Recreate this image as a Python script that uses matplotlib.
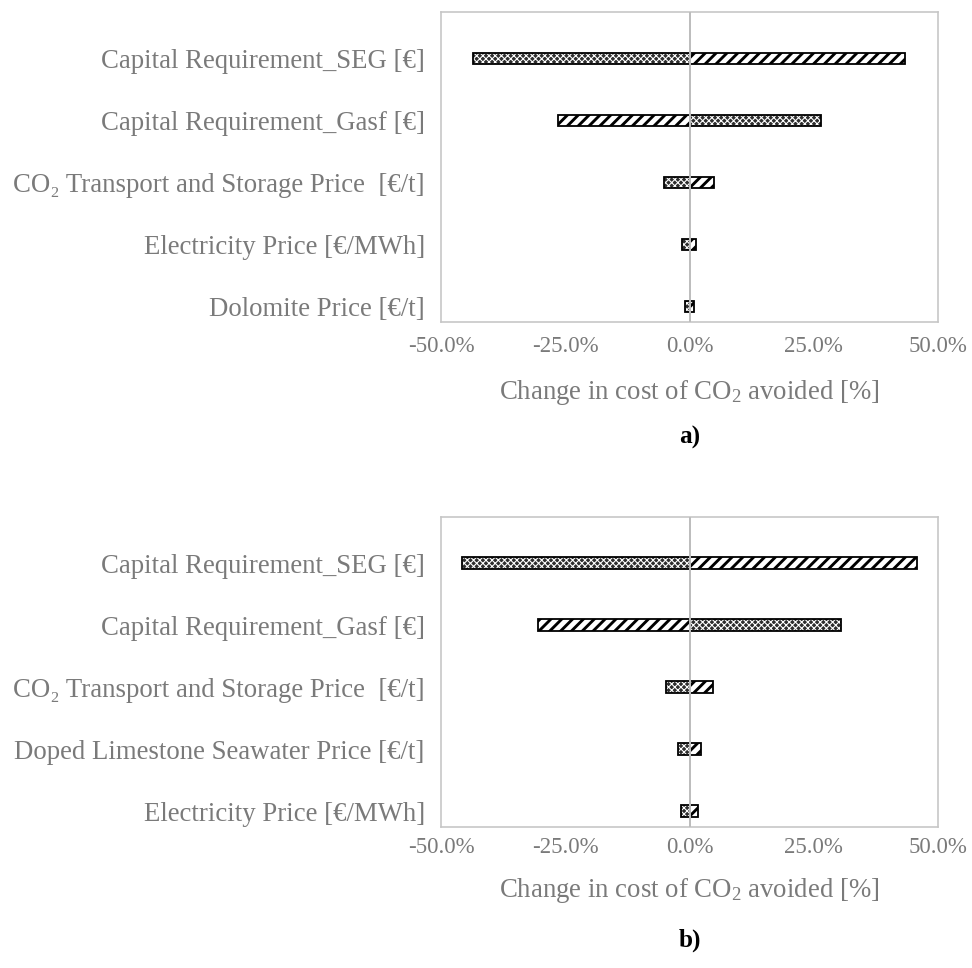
import matplotlib
matplotlib.use("Agg")
import matplotlib.pyplot as plt
import numpy as np

plt.rcParams['font.family'] = ['Liberation Serif', 'DejaVu Serif']
plt.rcParams['mathtext.fontset'] = 'custom'
plt.rcParams['mathtext.rm'] = 'Liberation Serif'
plt.rcParams['mathtext.it'] = 'Liberation Serif:italic'

# Sensitivity results (change in cost of CO2 avoided, %)
labels_a = ["Capital Requirement_SEG [€]",
            "Capital Requirement_Gasf [€]",
            "CO\u2082 Transport and Storage Price  [€/t]",
            "Electricity Price [€/MWh]",
            "Dolomite Price [€/t]"]
dotted_a = [-43.5, 26.4, -5.1, -1.5, -0.9]
hatched_a = [43.3, -26.4, 5.0, 1.4, 0.9]

labels_b = ["Capital Requirement_SEG [€]",
            "Capital Requirement_Gasf [€]",
            "CO\u2082 Transport and Storage Price  [€/t]",
            "Doped Limestone Seawater Price [€/t]",
            "Electricity Price [€/MWh]"]
dotted_b = [-45.8, 30.4, -4.7, -2.4, -1.8]
hatched_b = [45.7, -30.5, 4.75, 2.3, 1.8]

xticks = [-50, -25, 0, 25, 50]
xtick_labels = ["-50.0%", "-25.0%", "0.0%", "25.0%", "50.0%"]
xlabel = r"Change in cost of CO$_2$ avoided [%]"

GRAY_TXT = '#7a7a7a'
FRAME = '#c6c6c6'
BAR_H = 0.19

DPI = 130
fig = plt.figure(figsize=(972 / DPI, 968 / DPI), dpi=DPI)


def set_hatch_lw(patch, lw):
    if hasattr(patch, 'set_hatch_linewidth'):
        patch.set_hatch_linewidth(lw)


def draw_panel(ax, labels, dotted, hatched, tick_pad, label_pad):
    y = np.arange(len(labels))
    # dotted series
    with plt.rc_context({'hatch.linewidth': 0.6}):
        bars = ax.barh(y, dotted, height=BAR_H, color='#2e2e2e',
                       edgecolor='white', hatch='xxxxxxx', linewidth=0, zorder=2)
    for b in bars:
        set_hatch_lw(b, 0.6)
    ax.barh(y, dotted, height=BAR_H, facecolor='none', edgecolor='black',
            linewidth=1.0, zorder=3)
    # hatched series
    with plt.rc_context({'hatch.linewidth': 1.6}):
        bars = ax.barh(y, hatched, height=BAR_H, color='white',
                       edgecolor='black', hatch='////', linewidth=1.0, zorder=2)
    for b in bars:
        set_hatch_lw(b, 1.6)

    ax.axvline(0, color='#bdbdbd', linewidth=1.1, zorder=4)
    ax.set_xlim(-50, 50)
    ax.set_ylim(len(labels) - 0.75, -0.75)
    ax.set_yticks(y)
    ax.set_yticklabels(labels, fontsize=14.8, color=GRAY_TXT)
    ax.set_xticks(xticks)
    ax.set_xticklabels(xtick_labels, fontsize=12.7, color=GRAY_TXT)
    ax.tick_params(axis='both', length=0)
    ax.tick_params(axis='y', pad=9)
    ax.tick_params(axis='x', pad=tick_pad)
    for s in ax.spines.values():
        s.set_color(FRAME)
        s.set_linewidth(0.9)
    ax.set_xlabel(xlabel, fontsize=14.8, color=GRAY_TXT, labelpad=label_pad)


ax_a = fig.add_axes([441 / 972, 1 - 322 / 968, (938 - 441) / 972, 310 / 968])
draw_panel(ax_a, labels_a, dotted_a, hatched_a, tick_pad=7.5, label_pad=12)

ax_b = fig.add_axes([441 / 972, 1 - 826.7 / 968, (938 - 441) / 972, 310 / 968])
draw_panel(ax_b, labels_b, dotted_b, hatched_b, tick_pad=5.5, label_pad=10)

fig.text(690 / 972, 1 - 437 / 968, "a)", ha='center', va='center',
         fontsize=14, fontweight='bold', color='black')
fig.text(690 / 972, 1 - 940 / 968, "b)", ha='center', va='center',
         fontsize=14, fontweight='bold', color='black')

fig.savefig("out.png", dpi=DPI)
